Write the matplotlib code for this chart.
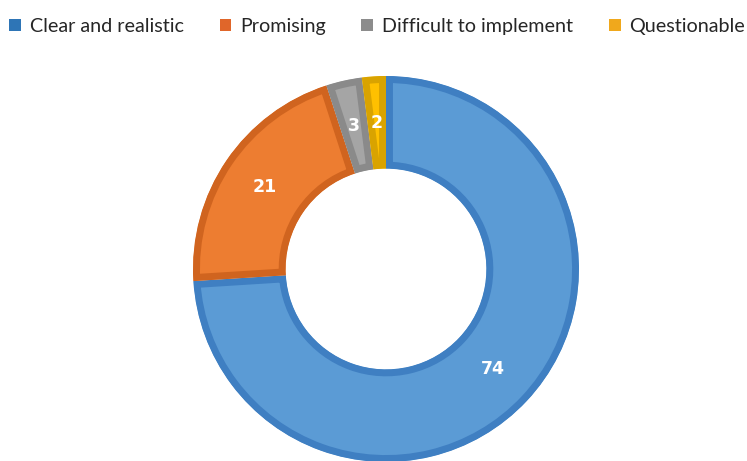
import matplotlib.pyplot as plt
from matplotlib.patches import Patch

# survey answers, share in percent
categories = ["Clear and realistic", "Promising", "Difficult to implement", "Questionable"]
values = [74, 21, 3, 2]
fill_colors = ["#5B9BD5", "#ED7D31", "#A5A5A5", "#FFC000"]
edge_colors = ["#3F7FC2", "#D0641F", "#8A8A8A", "#D9A300"]
legend_colors = ["#2E75B6", "#E0662A", "#8C8C8C", "#F0A81C"]

W, H = 747, 461
fig = plt.figure(figsize=(W / 100, H / 100), dpi=100)

# donut centre and outer radius in pixels
cx, cy, R = 386, 269, 193
ax = fig.add_axes([(cx - R) / W, (H - cy - R) / H, 2 * R / W, 2 * R / H])

wedges, texts = ax.pie(
    values,
    colors=fill_colors,
    startangle=90,
    counterclock=False,
    radius=1,
    labels=[str(v) for v in values],
    labeldistance=0.76,
    wedgeprops=dict(width=0.48, linewidth=10),
    textprops=dict(color="white", fontsize=12.5, fontweight="heavy", family=["DejaVu Sans"]),
)
ax.set_xlim(-1, 1)
ax.set_ylim(-1, 1)
ax.set_aspect("equal")
ax.axis("off")

# darker inner border, clipped so it stays inside each slice
for w, ec in zip(wedges, edge_colors):
    w.set_edgecolor(ec)
    w.set_clip_path(w)
    w.set_clip_on(True)
for t in texts:
    t.set_ha("center")
    t.set_va("center")

handles = [Patch(facecolor=c, edgecolor="none") for c in legend_colors]
fig.legend(
    handles, categories,
    loc="upper center", bbox_to_anchor=(0.505, 1.0),
    ncol=4, frameon=False,
    prop=dict(family=["Lato", "DejaVu Sans"], size=14.2),
    handlelength=0.6, handleheight=0.6, handletextpad=0.45,
    columnspacing=1.8, labelcolor="#262626",
)

fig.savefig("out.png", dpi=100)
